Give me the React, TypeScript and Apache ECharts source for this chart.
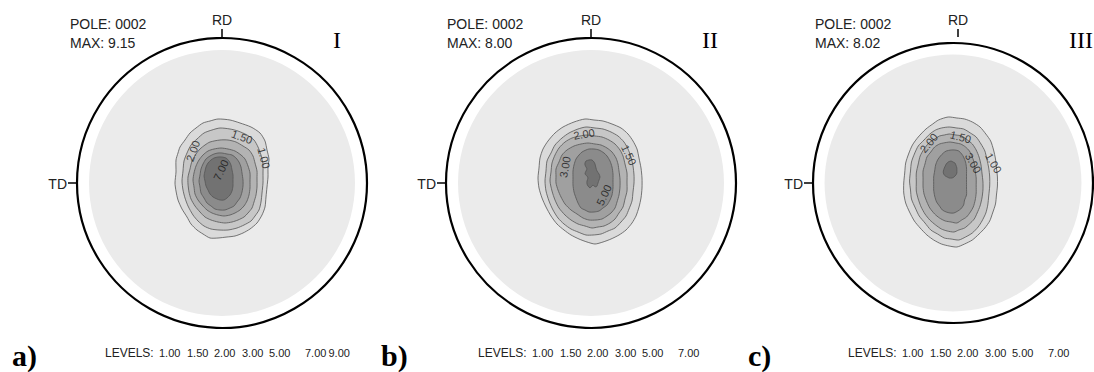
import React, { useEffect, useRef } from "react";
import * as echarts from "echarts";

// ---------- data ----------
const PANEL_TAGS = ["a)", "b)", "c)"];
const NUMERALS = ["I", "II", "III"];
const POLE = "0002";
const MAX_VALUES = ["9.15", "8.00", "8.02"];
const LEVELS_A = ["1.00", "1.50", "2.00", "3.00", "5.00", "7.00", "9.00"];
const LEVELS_B = ["1.00", "1.50", "2.00", "3.00", "5.00", "7.00"];
const LEVELS_C = ["1.00", "1.50", "2.00", "3.00", "5.00", "7.00"];

// projection radius of the pole figure and of the shaded area (same units as contours)
const OUTER_RADIUS = 146;
const DISC_RADIUS = 133;

// contour polygons (x right, y up), panel a
const A_100 = [[-4,64],[8,63],[18,60],[29,56],[38,50],[43,42],[45,33],[47,24],[46,16],[46,6],[45,-4],[44,-14],[43,-24],[40,-32],[35,-40],[28,-46],[21,-50],[13,-53],[5,-54],[-4,-55],[-12,-55],[-19,-51],[-25,-47],[-31,-41],[-35,-34],[-40,-26],[-44,-17],[-46,-8],[-47,0],[-46,11],[-46,23],[-44,30],[-42,36],[-37,43],[-32,50],[-26,55],[-19,60],[-12,62]];
const A_150 = [[-2,55],[8,54],[16,52],[25,48],[32,43],[36,36],[39,28],[41,19],[41,10],[41,0],[40,-10],[39,-19],[37,-27],[33,-33],[29,-38],[22,-42],[15,-45],[6,-47],[-3,-47],[-11,-46],[-18,-43],[-24,-38],[-29,-32],[-34,-23],[-37,-15],[-39,-7],[-40,2],[-39,12],[-38,22],[-35,30],[-31,38],[-25,44],[-18,50],[-10,53]];
const A_200 = [[-2,43],[6,43],[14,41],[21,37],[27,33],[31,27],[33,20],[35,12],[35,5],[35,-4],[34,-12],[32,-19],[30,-25],[26,-30],[22,-34],[16,-37],[10,-39],[3,-40],[-4,-39],[-11,-37],[-17,-34],[-22,-29],[-27,-23],[-31,-16],[-33,-9],[-34,-1],[-34,6],[-32,14],[-30,22],[-26,29],[-22,34],[-17,38],[-12,41]];
const A_300 = [[-1,35],[6,34],[13,32],[19,28],[23,24],[26,17],[28,10],[28,2],[28,-5],[27,-12],[25,-18],[22,-23],[18,-27],[13,-30],[8,-32],[2,-33],[-4,-32],[-10,-30],[-15,-27],[-20,-22],[-24,-17],[-27,-11],[-28,-4],[-29,3],[-28,10],[-26,17],[-23,23],[-19,28],[-14,32],[-8,34]];
const A_500 = [[0,30],[5,29],[10,28],[14,25],[17,21],[19,16],[20,10],[21,3],[21,-3],[20,-9],[18,-15],[15,-19],[12,-23],[8,-25],[3,-27],[-2,-27],[-7,-26],[-11,-23],[-15,-20],[-18,-15],[-21,-10],[-22,-4],[-23,2],[-22,8],[-21,14],[-19,19],[-16,24],[-12,27],[-8,29],[-4,30]];
const A_700 = [[-4,26],[0,26],[4,25],[7,22],[9,18],[10,13],[11,8],[11,2],[11,-3],[10,-8],[8,-12],[5,-15],[2,-17],[-2,-17],[-5,-16],[-9,-14],[-12,-11],[-14,-7],[-16,-3],[-17,2],[-18,7],[-17,12],[-16,16],[-14,20],[-11,23],[-8,25]];

// panel b
const B_100 = [[-6,64],[3,63],[12,62],[21,59],[30,55],[37,49],[42,42],[46,34],[48,25],[50,15],[51,5],[51,-5],[50,-15],[48,-24],[45,-33],[41,-40],[35,-47],[28,-52],[20,-56],[12,-59],[4,-61],[-4,-59],[-12,-56],[-20,-52],[-27,-47],[-34,-41],[-40,-33],[-45,-24],[-49,-15],[-52,-5],[-53,5],[-52,15],[-51,25],[-48,34],[-43,42],[-36,50],[-28,56],[-17,61]];
const B_150 = [[-5,56],[4,55],[12,54],[20,51],[27,47],[33,41],[37,34],[40,26],[42,17],[43,8],[43,0],[42,-9],[41,-18],[38,-26],[35,-33],[30,-39],[24,-45],[17,-48],[10,-51],[2,-52],[-5,-52],[-13,-49],[-20,-46],[-27,-41],[-33,-35],[-38,-27],[-42,-18],[-45,-8],[-46,2],[-45,12],[-44,22],[-40,30],[-36,38],[-29,45],[-22,50],[-13,54]];
const B_200 = [[-4,48],[4,47],[11,46],[18,43],[24,39],[29,33],[32,27],[34,19],[36,10],[36,1],[36,-8],[34,-16],[32,-24],[28,-30],[24,-36],[19,-40],[13,-43],[7,-44],[1,-45],[-6,-43],[-13,-41],[-20,-37],[-26,-32],[-32,-25],[-36,-17],[-39,-8],[-41,2],[-40,11],[-39,20],[-36,28],[-32,35],[-26,41],[-19,45],[-11,47]];
const B_300 = [[-3,40],[4,39],[10,38],[16,35],[21,31],[25,25],[27,19],[28,12],[29,4],[29,-4],[28,-12],[26,-19],[24,-25],[20,-30],[16,-33],[11,-36],[5,-37],[-2,-37],[-8,-35],[-14,-31],[-20,-27],[-26,-21],[-30,-14],[-33,-7],[-35,0],[-35,7],[-35,14],[-32,21],[-29,28],[-24,33],[-17,37],[-10,39]];
const B_500 = [[-2,34],[3,34],[8,33],[13,30],[16,27],[19,22],[21,16],[22,9],[22,2],[22,-5],[21,-12],[19,-17],[16,-22],[12,-25],[8,-28],[3,-29],[-2,-29],[-6,-27],[-10,-25],[-13,-20],[-15,-15],[-17,-9],[-18,-2],[-18,5],[-18,12],[-17,18],[-15,24],[-12,28],[-9,31],[-5,33]];
const B_700 = [[-5,22],[-2,23],[1,23],[3,21],[4,19],[5,15],[6,12],[8,9],[9,6],[8,3],[7,0],[6,-3],[5,-4],[3,-3],[2,-2],[0,-4],[-1,-5],[-3,-3],[-4,-1],[-4,2],[-3,5],[-4,7],[-6,9],[-5,12],[-4,14],[-5,16],[-6,18],[-6,20]];

// panel c
const C_100 = [[-5,66],[4,65],[12,64],[20,61],[28,56],[34,49],[39,42],[42,33],[44,24],[45,15],[46,6],[46,-3],[45,-12],[44,-21],[41,-30],[38,-38],[33,-45],[27,-51],[20,-57],[12,-61],[4,-64],[-4,-63],[-12,-61],[-20,-57],[-27,-52],[-34,-45],[-40,-38],[-45,-29],[-49,-20],[-51,-10],[-51,0],[-50,10],[-49,20],[-46,29],[-42,38],[-36,46],[-28,54],[-21,59],[-15,63]];
const C_150 = [[-4,56],[4,55],[11,54],[18,50],[24,46],[29,39],[33,32],[35,24],[37,15],[38,6],[38,-3],[37,-13],[36,-22],[34,-30],[30,-38],[26,-44],[20,-50],[13,-54],[6,-57],[-2,-56],[-9,-55],[-16,-51],[-23,-47],[-29,-40],[-35,-33],[-39,-25],[-43,-16],[-44,-7],[-45,2],[-44,12],[-43,21],[-40,29],[-36,37],[-30,43],[-24,49],[-18,53],[-12,55]];
const C_200 = [[-4,49],[3,48],[9,47],[15,43],[20,39],[24,33],[27,26],[29,18],[30,10],[31,1],[31,-7],[30,-15],[28,-23],[25,-30],[22,-36],[17,-41],[12,-45],[6,-47],[1,-49],[-6,-48],[-12,-46],[-18,-42],[-24,-37],[-29,-31],[-33,-24],[-36,-16],[-38,-8],[-38,1],[-38,10],[-36,19],[-34,27],[-30,34],[-25,40],[-19,44],[-14,47],[-9,48]];
const C_300 = [[-3,41],[3,40],[8,39],[13,36],[17,32],[20,26],[22,20],[23,12],[24,5],[24,-3],[24,-10],[23,-17],[21,-24],[18,-29],[14,-34],[9,-37],[4,-40],[-2,-39],[-8,-38],[-14,-35],[-19,-31],[-24,-25],[-27,-19],[-30,-11],[-31,-4],[-31,4],[-31,12],[-29,19],[-27,26],[-23,31],[-19,36],[-14,39],[-10,40]];
const C_500 = [[-2,33],[2,33],[6,32],[9,29],[11,26],[13,21],[14,15],[14,8],[14,2],[14,-5],[14,-12],[12,-17],[11,-22],[8,-26],[5,-28],[1,-30],[-3,-30],[-7,-29],[-11,-27],[-14,-23],[-17,-19],[-19,-13],[-20,-7],[-20,0],[-20,6],[-19,12],[-18,18],[-16,23],[-13,27],[-10,30],[-7,32]];
const C_700 = [[-5,21],[-2,22],[0,21],[2,20],[3,18],[4,15],[4,13],[4,10],[3,8],[1,6],[-1,5],[-4,5],[-6,6],[-8,7],[-9,8],[-10,10],[-10,12],[-9,15],[-8,17],[-7,19]];

const CONTOURS_A = [A_100, A_150, A_200, A_300, A_500, A_700];
const CONTOURS_B = [B_100, B_150, B_200, B_300, B_500, B_700];
const CONTOURS_C = [C_100, C_150, C_200, C_300, C_500, C_700];

// contour line labels: [x, y, text, rotation]
const LABELS_A = [[20, 46, "1.50", -20], [-29, 32, "2.00", 70], [42, 25, "1.00", -75], [-1, 13, "7.00", 65]];
const LABELS_B = [[-7, 49, "2.00", 10], [38, 28, "1.50", -65], [-26, 16, "3.00", 80], [13, -12, "5.00", 65]];
const LABELS_C = [[-25, 40, "2.00", 50], [8, 46, "1.50", -15], [21, 20, "3.00", -60], [42, 20, "1.00", -60]];

// ---------- styling / layout ----------
const BAND_COLORS = ["#dadada", "#c7c7c7", "#b3b3b3", "#a0a0a0", "#8b8b8b", "#727272"];
const DISC_COLOR = "#ebebeb";
const SANS = "'Liberation Sans', Arial, sans-serif";
const SERIF = "'Liberation Serif', 'Times New Roman', serif";

const PANELS = [
  { cx: 222, cy: 183, poleX: 70, levelsX: 105, contours: CONTOURS_A, labels: LABELS_A, levels: LEVELS_A },
  { cx: 591, cy: 183, poleX: 447, levelsX: 478, contours: CONTOURS_B, labels: LABELS_B, levels: LEVELS_B },
  { cx: 958, cy: 183, poleX: 815, levelsX: 848, contours: CONTOURS_C, labels: LABELS_C, levels: LEVELS_C },
];
const LEVEL_OFFSETS = [54, 82, 109, 137, 164, 200, 223.5];

function txt(x: number, y: number, text: string, font: string, align = "left", color = "#222") {
  return {
    type: "text",
    x,
    y,
    silent: true,
    style: {
      text,
      font,
      fill: color,
      align,
      verticalAlign: "middle",
      textAlign: align,
      textVerticalAlign: "middle",
    },
  };
}

export default function App() {
  const ref = useRef<HTMLDivElement>(null);
  useEffect(() => {
    if (!ref.current) return;
    const chart = echarts.init(ref.current, undefined, { renderer: "svg" });

    const grid: any[] = [];
    const xAxis: any[] = [];
    const yAxis: any[] = [];
    const series: any[] = [];
    const graphic: any[] = [];

    PANELS.forEach((p, i) => {
      grid.push({ left: p.cx - OUTER_RADIUS, top: p.cy - OUTER_RADIUS, width: OUTER_RADIUS * 2, height: OUTER_RADIUS * 2 });
      xAxis.push({ gridIndex: i, type: "value", min: -OUTER_RADIUS, max: OUTER_RADIUS, show: false });
      yAxis.push({ gridIndex: i, type: "value", min: -OUTER_RADIUS, max: OUTER_RADIUS, show: false });

      // shaded projection disc
      series.push({
        type: "custom",
        xAxisIndex: i,
        yAxisIndex: i,
        silent: true,
        data: [[0, 0, DISC_RADIUS]],
        renderItem: (_params: any, api: any) => {
          const c = api.coord([api.value(0), api.value(1)]);
          const r = api.size([api.value(2), 0])[0];
          return { type: "circle", shape: { cx: c[0], cy: c[1], r }, style: { fill: DISC_COLOR, stroke: "none" } };
        },
      });

      // contour bands
      const contours = p.contours;
      series.push({
        type: "custom",
        xAxisIndex: i,
        yAxisIndex: i,
        silent: true,
        clip: false,
        data: contours.map((_c, k) => [k, 0]),
        renderItem: (_params: any, api: any) => {
          const k = api.value(0);
          const pts = contours[k].map((pt: number[]) => api.coord(pt));
          return {
            type: "polygon",
            shape: { points: pts, smooth: 0.25 },
            style: { fill: BAND_COLORS[k], stroke: "#555555", lineWidth: 0.8 },
          };
        },
      });

      // contour labels
      series.push({
        type: "scatter",
        xAxisIndex: i,
        yAxisIndex: i,
        silent: true,
        symbolSize: 0,
        itemStyle: { color: "#1a1a1a" },
        data: p.labels.map((l: any[]) => ({ name: l[2], value: [l[0], l[1]], label: { rotate: l[3] } })),
        label: {
          show: true,
          position: "inside",
          formatter: (q: any) => q.name,
          fontFamily: SANS,
          fontSize: 11,
          color: "#1a1a1a",
          textBorderWidth: 0,
          textBorderColor: "transparent",
        },
      });

      // outer circle
      series.push({
        type: "custom",
        xAxisIndex: i,
        yAxisIndex: i,
        silent: true,
        clip: false,
        data: [[0, 0, OUTER_RADIUS]],
        renderItem: (_params: any, api: any) => {
          const c = api.coord([api.value(0), api.value(1)]);
          const r = api.size([api.value(2), 0])[0];
          return { type: "circle", shape: { cx: c[0], cy: c[1], r: r - 1 }, style: { fill: "none", stroke: "#000", lineWidth: 2.2 } };
        },
      });

      // ticks
      graphic.push({ type: "line", silent: true, shape: { x1: p.cx, y1: p.cy - OUTER_RADIUS - 8, x2: p.cx, y2: p.cy - OUTER_RADIUS }, style: { stroke: "#000", lineWidth: 1.5 } });
      graphic.push({ type: "line", silent: true, shape: { x1: p.cx - OUTER_RADIUS - 8, y1: p.cy, x2: p.cx - OUTER_RADIUS, y2: p.cy }, style: { stroke: "#000", lineWidth: 1.5 } });
      graphic.push(txt(p.cx, p.cy - OUTER_RADIUS - 17, "RD", `14px ${SANS}`, "center"));
      graphic.push(txt(p.cx - OUTER_RADIUS - 9, p.cy + 0.5, "TD", `14px ${SANS}`, "right"));
      graphic.push(txt(p.poleX, 24, `POLE: ${POLE}`, `14px ${SANS}`));
      graphic.push(txt(p.poleX, 43, `MAX: ${MAX_VALUES[i]}`, `14px ${SANS}`));
      graphic.push(txt(p.cx + 111, 40, NUMERALS[i], `24px ${SERIF}`, "left", "#000"));
      graphic.push(txt(p.cx - 210, 355, PANEL_TAGS[i], `bold 30px ${SERIF}`, "left", "#000"));
      graphic.push(txt(p.levelsX, 352.5, "LEVELS:", `12px ${SANS}`));
      p.levels.forEach((lv: string, k: number) => {
        graphic.push(txt(p.levelsX + LEVEL_OFFSETS[k], 352.5, lv, `11px ${SANS}`));
      });
    });

    chart.setOption({
      animation: false,
      backgroundColor: "#ffffff",
      grid,
      xAxis,
      yAxis,
      series,
      graphic,
    });
    return () => chart.dispose();
  }, []);

  return <div ref={ref} style={{ position: "absolute", left: 0, top: 0, width: 1094, height: 372 }} />;
}
